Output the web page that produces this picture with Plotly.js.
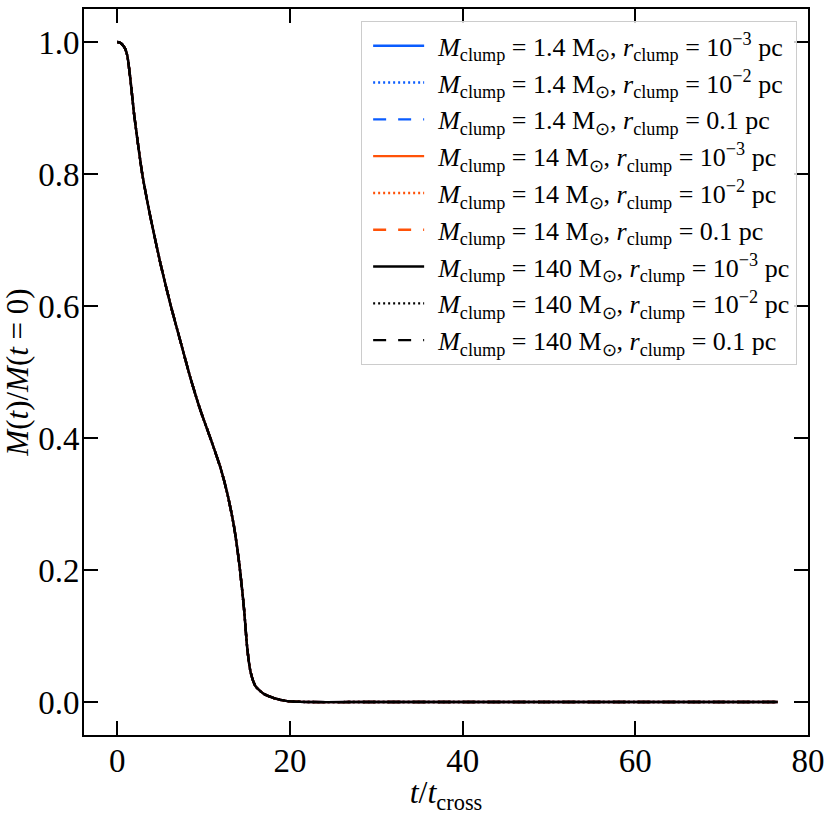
<!DOCTYPE html>
<html>
<head>
<meta charset="utf-8">
<script src="https://cdn.plot.ly/plotly-3.0.1.min.js"></script>
<style>html,body{margin:0;padding:0;background:#fff;}</style>
</head>
<body>
<div id="chart" style="width:830px;height:815px;"></div>
<script>
// time in units of t_cross
const tData = [0, 0.3, 0.58, 0.9, 1.16, 1.5, 1.93, 2.4, 2.9, 3.86, 5.02, 6.18, 7.34, 8.49, 9.65, 10.8, 11.97, 12.74, 13.5, 14.1, 14.67, 15.06, 15.44, 16.0, 17.0, 18.15, 19.7, 22, 30, 40, 50, 60, 70, 76.5];
// M(t)/M(t=0)
const mData = [1.0, 0.999, 0.996, 0.99, 0.979, 0.945, 0.892, 0.845, 0.799, 0.733, 0.663, 0.601, 0.545, 0.49, 0.441, 0.399, 0.354, 0.316, 0.267, 0.212, 0.142, 0.08, 0.045, 0.024, 0.012, 0.006, 0.0014, 0.0, 0.0, 0.0, 0.0, 0.0, 0.0, 0.0];

const massLabels = ["1.4", "14", "140"];
const radiusLabels = ["10<sup>−3</sup>", "10<sup>−2</sup>", "0.1"];
const seriesColors = ["#0a5cff", "#ff5208", "#000000"];
const seriesDashes = ["solid", "2px,3px", "13px,12px"];

const traces = [];
massLabels.forEach((m, i) => {
  radiusLabels.forEach((r, j) => {
    traces.push({
      x: tData,
      y: mData,
      type: 'scatter',
      mode: 'lines',
      line: {color: seriesColors[i], width: 2.4, dash: seriesDashes[j], shape: 'spline', smoothing: 0.6},
      name: '<i>M</i><sub>clump</sub> = ' + m + ' M<sub>⊙</sub>, <i>r</i><sub>clump</sub> = ' + r + ' pc'
    });
  });
});

const axisCommon = {
  showline: true, linecolor: '#000', linewidth: 2,
  mirror: 'ticks', ticks: 'inside', ticklen: 14, tickwidth: 2, tickcolor: '#000',
  showgrid: false, zeroline: false,
  tickfont: {family: 'Liberation Serif, serif', size: 33, color: '#000'}
};

const layout = {
  width: 830, height: 815,
  margin: {l: 84, r: 22, t: 9, b: 80},
  paper_bgcolor: '#fff', plot_bgcolor: '#fff',
  showlegend: true,
  font: {family: 'Liberation Serif, serif', color: '#000'},
  xaxis: Object.assign({}, axisCommon, {
    range: [-3.86, 80.0],
    tickvals: [0, 20, 40, 60, 80],
    ticktext: ['0', '20', '40', '60', '80'],
    ticklabelstandoff: -5,
    title: {text: '<i>t</i>/<i>t</i><sub>cross</sub>', font: {family: 'Liberation Serif, serif', size: 32, color: '#000'}, standoff: 4}
  }),
  yaxis: Object.assign({}, axisCommon, {
    range: [-0.05, 1.05],
    tickvals: [0, 0.2, 0.4, 0.6, 0.8, 1.0],
    ticktext: ['0.0', '0.2', '0.4', '0.6', '0.8', '1.0'],
    ticklabelstandoff: -4,
    title: {text: '<i>M</i>(<i>t</i>)/<i>M</i>(<i>t</i> = 0)', font: {family: 'Liberation Serif, serif', size: 31, color: '#000'}, standoff: 3}
  }),
  legend: {
    x: 0.985, y: 0.983, xanchor: 'right', yanchor: 'top',
    bgcolor: 'rgba(255,255,255,0.8)', bordercolor: '#cccccc', borderwidth: 1,
    font: {family: 'Liberation Serif, serif', size: 26, color: '#000'},
    itemwidth: 66,
    tracegroupgap: 0
  }
};

Plotly.newPlot('chart', traces, layout, {displayModeBar: false, staticPlot: true}).then(gd => {
  // shorten legend line samples to match the reference handle length
  gd.querySelectorAll('.legend .legendlines path').forEach(p => p.setAttribute('d', 'M11,0h51'));
});
</script>
</body>
</html>
